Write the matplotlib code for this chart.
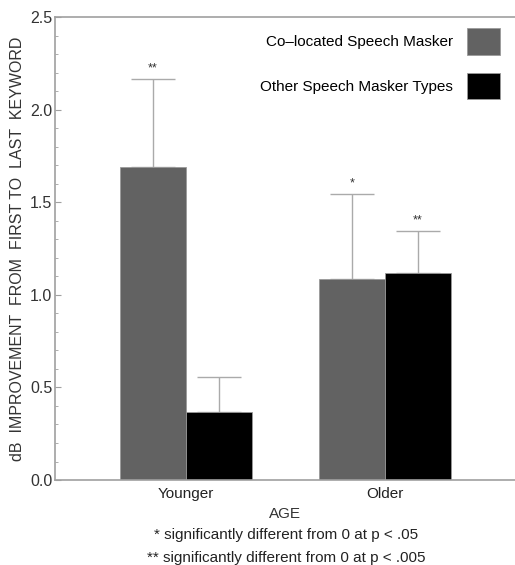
import numpy as np
import matplotlib
matplotlib.use("Agg")
import matplotlib.pyplot as plt
from matplotlib.patches import Patch
from matplotlib.ticker import MultipleLocator

plt.rcParams["font.family"] = ["Liberation Sans", "DejaVu Sans"]

# data
ages = ["Younger", "Older"]
colocated = [1.69, 1.085]
colocated_err = [0.475, 0.46]
other = [0.365, 1.12]
other_err = [0.19, 0.225]
colocated_sig = ["**", "*"]
other_sig = ["", "**"]

series_labels = ["Co\u2013located Speech Masker", "Other Speech Masker Types"]
bar_colors = ["#626262", "#000000"]

fig = plt.figure(figsize=(5.15, 5.65), dpi=100)
ax = fig.add_axes([0.107, 0.1504, 0.893, 0.8195])

x = np.arange(len(ages))
width = 0.332
spine_col = "#a0a0a0"

for i, (vals, errs, sig) in enumerate([(colocated, colocated_err, colocated_sig),
                                       (other, other_err, other_sig)]):
    xpos = x + (i - 0.5) * width
    ax.bar(xpos, vals, width=width, color=bar_colors[i], edgecolor="#9a9a9a",
           linewidth=0.6, label=series_labels[i], zorder=2)
    ax.errorbar(xpos, vals, yerr=[np.zeros(len(vals)), errs], fmt="none",
                ecolor="#aaaaaa", elinewidth=1.0, capsize=16, capthick=1.0, zorder=1)
    for xp, v, e, s in zip(xpos, vals, errs, sig):
        if s:
            ax.text(xp, v + e + 0.025, s, ha="center", va="bottom",
                    fontsize=9, color="#333333")

ax.set_xlim(-0.658, 1.653)
ax.set_ylim(0, 2.5)
ax.yaxis.set_major_locator(MultipleLocator(0.5))
ax.yaxis.set_minor_locator(MultipleLocator(0.1))
ax.yaxis.set_major_formatter(matplotlib.ticker.FormatStrFormatter("%.1f"))
ax.tick_params(axis="y", which="major", direction="in", length=4, color=spine_col,
               labelsize=11.5, labelcolor="#333333", pad=2)
ax.tick_params(axis="y", which="minor", direction="in", length=2, color=spine_col)
ax.set_xticks(x)
ax.set_xticklabels(ages)
ax.tick_params(axis="x", length=0, labelsize=11, labelcolor="#222222", pad=5)

for side in ["left", "top", "bottom"]:
    ax.spines[side].set_color(spine_col)
    ax.spines[side].set_linewidth(1.2)
ax.spines["right"].set_visible(False)

ax.set_xlabel("AGE", fontsize=11, color="#333333", labelpad=4)
ax.set_ylabel("dB  IMPROVEMENT  FROM  FIRST TO  LAST  KEYWORD", fontsize=11.5,
              color="#333333", labelpad=4)

handles = [Patch(facecolor=bar_colors[i], edgecolor="#9a9a9a", linewidth=0.6,
                 label=series_labels[i]) for i in range(2)]
ax.legend(handles=handles, loc="upper right", bbox_to_anchor=(0.998, 1.006),
          frameon=False, markerfirst=False, fontsize=11, handlelength=2.2,
          handleheight=2.3, labelspacing=1.2, handletextpad=0.9)

fig.text(0.555, 0.053, "* significantly different from 0 at p < .05",
         ha="center", va="center", fontsize=11, color="#222222")
fig.text(0.555, 0.012, "** significantly different from 0 at p < .005",
         ha="center", va="center", fontsize=11, color="#222222")

fig.savefig("out.png", dpi=100)
